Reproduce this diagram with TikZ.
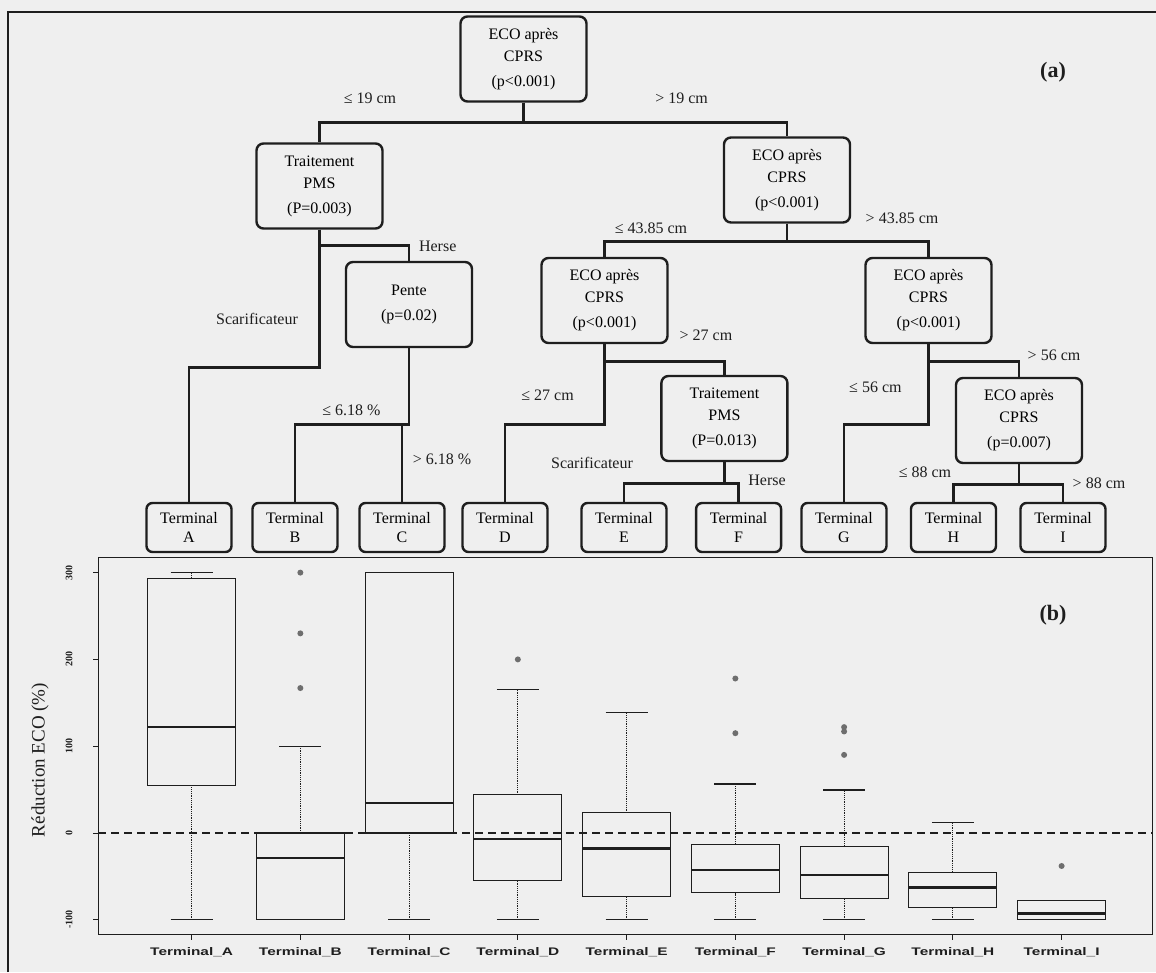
\documentclass[tikz,border=0pt]{standalone}
\usepackage{fontspec}
\setmainfont{Liberation Serif}
\setsansfont{Liberation Sans}
\definecolor{paper}{RGB}{239,239,239}
\definecolor{ink}{RGB}{30,30,30}
\definecolor{dotc}{RGB}{110,110,110}
\tikzset{
  dec/.style={draw=ink, line width=2.4pt, rounded corners=7pt, fill=paper, minimum width=126pt, minimum height=85pt, align=center, inner sep=2pt, font=\fontsize{16}{22}\selectfont},
  term/.style={draw=ink, line width=2.4pt, rounded corners=6pt, fill=paper, minimum width=85pt, minimum height=49pt, align=center, inner sep=1pt, font=\fontsize{16}{19}\selectfont},
  branch/.style={draw=ink, line width=2.6pt},
  cut/.style={inner sep=0pt, text=ink, font=\fontsize{16}{19}\selectfont},
  panel/.style={inner sep=0pt, text=ink, font=\fontsize{22}{22}\selectfont\bfseries},
  whisk/.style={draw=ink, line width=1.2pt, densely dotted},
  wcap/.style={draw=ink, line width=1.1pt},
  boxl/.style={draw=ink, line width=1.1pt},
  med/.style={draw=ink, line width=2.6pt},
  zero/.style={draw=ink, line width=1.6pt, dash pattern=on 8pt off 5pt},
  ytick/.style={inner sep=0pt, text=ink, font=\fontsize{10}{10}\selectfont\bfseries},
  xlab/.style={inner sep=0pt, text=ink, xscale=1.4, font=\sffamily\fontsize{11}{11}\selectfont\bfseries},
}
\begin{document}
\begin{tikzpicture}[x=1pt, y=-1pt]
\useasboundingbox (0,0) rectangle (1156,972);
\fill[paper] (0,0) rectangle (1156,972);
\draw[ink, line width=1.2pt] (8,972) -- (8,12) -- (1156,12);

% (a) arbre de regression
\node[dec] (root) at (523.5,59) {ECO après\\CPRS\\[3pt](p<0.001)};
\node[dec] (pms1) at (319.5,186) {Traitement\\PMS\\[3pt](P=0.003)};
\node[dec] (eco2) at (787,180) {ECO après\\CPRS\\[3pt](p<0.001)};
\node[dec] (pente) at (409,304.5) {Pente\\[3pt](p=0.02)};
\node[dec] (eco3) at (604.5,300.5) {ECO après\\CPRS\\[3pt](p<0.001)};
\node[dec] (eco4) at (928.5,300.5) {ECO après\\CPRS\\[3pt](p<0.001)};
\node[dec] (pms2) at (724.4,418.5) {Traitement\\PMS\\[3pt](P=0.013)};
\node[dec] (eco5) at (1019,420.5) {ECO après\\CPRS\\[3pt](p=0.007)};

\node[term] (tA) at (189,527.5) {Terminal\\A};
\node[term] (tB) at (295,527.5) {Terminal\\B};
\node[term] (tC) at (402,527.5) {Terminal\\C};
\node[term] (tD) at (505,527.5) {Terminal\\D};
\node[term] (tE) at (624,527.5) {Terminal\\E};
\node[term] (tF) at (738.6,527.5) {Terminal\\F};
\node[term] (tG) at (844,527.5) {Terminal\\G};
\node[term] (tH) at (953.5,527.5) {Terminal\\H};
\node[term] (tI) at (1063,527.5) {Terminal\\I};

\draw[branch] (root.south) -- ++(0,20) -| (pms1.north);
\draw[branch] (root.south) -- ++(0,20) -| (eco2.north);
\draw[branch] (pms1.south) -- ++(0,16) -| (pente.north);
\draw[branch] (pms1.south) -- ++(0,138) -| (tA.north);
\draw[branch] (pente.south) -- ++(0,76) -| (tB.north);
\draw[branch] (pente.south) -- ++(0,76) -| (tC.north);
\draw[branch] (eco2.south) -- ++(0,17.5) -| (eco3.north);
\draw[branch] (eco2.south) -- ++(0,17.5) -| (eco4.north);
\draw[branch] (eco3.south) -- ++(0,17) -| (pms2.north);
\draw[branch] (eco3.south) -- ++(0,80) -| (tD.north);
\draw[branch] (pms2.south) -- ++(0,21.5) -| (tE.north);
\draw[branch] (pms2.south) -- ++(0,21.5) -| (tF.north);
\draw[branch] (eco4.south) -- ++(0,17) -| (eco5.north);
\draw[branch] (eco4.south) -- ++(0,80) -| (tG.north);
\draw[branch] (eco5.south) -- ++(0,20) -| (tH.north);
\draw[branch] (eco5.south) -- ++(0,20) -| (tI.north);

\node[cut] (c1) at (370,98) {≤ 19 cm};
\node[cut] (c2) at (681.6,98) {> 19 cm};
\node[cut] (c3) at (437.7,246) {Herse};
\node[cut] (c4) at (257,319) {Scarificateur};
\node[cut] (c5) at (351.5,410) {≤ 6.18 \%};
\node[cut] (c6) at (442,459) {> 6.18 \%};
\node[cut] (c7) at (651,228) {≤ 43.85 cm};
\node[cut] (c8) at (902,218) {> 43.85 cm};
\node[cut] (c9) at (706,335) {> 27 cm};
\node[cut] (c10) at (547.6,395) {≤ 27 cm};
\node[cut] (c11) at (592,463) {Scarificateur};
\node[cut] (c12) at (767,480) {Herse};
\node[cut] (c13) at (1054,355) {> 56 cm};
\node[cut] (c14) at (875.4,387) {≤ 56 cm};
\node[cut] (c15) at (925,472) {≤ 88 cm};
\node[cut] (c16) at (1099,483) {> 88 cm};
\node[panel] (pa) at (1053,72) {(a)};

% (b) boites a moustaches
\draw[ink, line width=0.9pt] (98,557) rectangle (1152,934);
\node[panel] (pb) at (1053,615) {(b)};
\node[rotate=90, inner sep=0pt, text=ink, font=\fontsize{19}{19}\selectfont] (ylab) at (40,760) {Réduction ECO (\%)};
\foreach \t [count=\k from 0] in {A,B,C,D,E,F,G,H,I} {
  \draw[ink, line width=0.9pt] (191.6+108.75*\k,934) -- ++(0,6);
  \node[xlab] (xl\t) at (191.6+108.75*\k,952) {Terminal\_\t};
}
\begin{scope}[shift={(0,833)}, y=0.868pt]
  \foreach \v [count=\n] in {-100,0,100,200,300} {
    \draw[ink, line width=0.9pt] (93,\v) -- (98,\v);
    \node[ytick, rotate=90] (yt\n) at (69,\v) {\v};
  }
  \foreach \k/\lo/\qa/\md/\qb/\hi in {0/-100/55/122/293/300, 1/-100/-100/-29/0/100,
      2/-100/0/34.5/300/300, 3/-100/-55/-7/44/165, 4/-100/-73/-17.6/23.4/139,
      5/-100/-69/-42.6/-13/56.5, 6/-100/-75/-48.4/-15.7/49.5,
      7/-100/-85.6/-63/-45.7/12, 8/-100/-100/-93/-78/-78} {
    \pgfmathsetmacro\xc{191.6+108.75*\k}
    \draw[whisk] (\xc,\qb) -- (\xc,\hi);
    \draw[whisk] (\xc,\lo) -- (\xc,\qa);
    \draw[wcap] (\xc-21,\hi) -- (\xc+21,\hi);
    \draw[wcap] (\xc-21,\lo) -- (\xc+21,\lo);
    \draw[boxl] (\xc-44,\qa) rectangle (\xc+44,\qb);
    \draw[med] (\xc-44,\md) -- (\xc+44,\md);
  }
  \foreach \k/\v in {1/300, 1/230, 1/167, 3/200, 5/178, 5/115, 6/122, 6/117, 6/90, 8/-38}
    \fill[dotc] (191.6+108.75*\k,\v) circle (3pt);
  \draw[zero] (98,0) -- (1152,0);
\end{scope}
\end{tikzpicture}
\end{document}
